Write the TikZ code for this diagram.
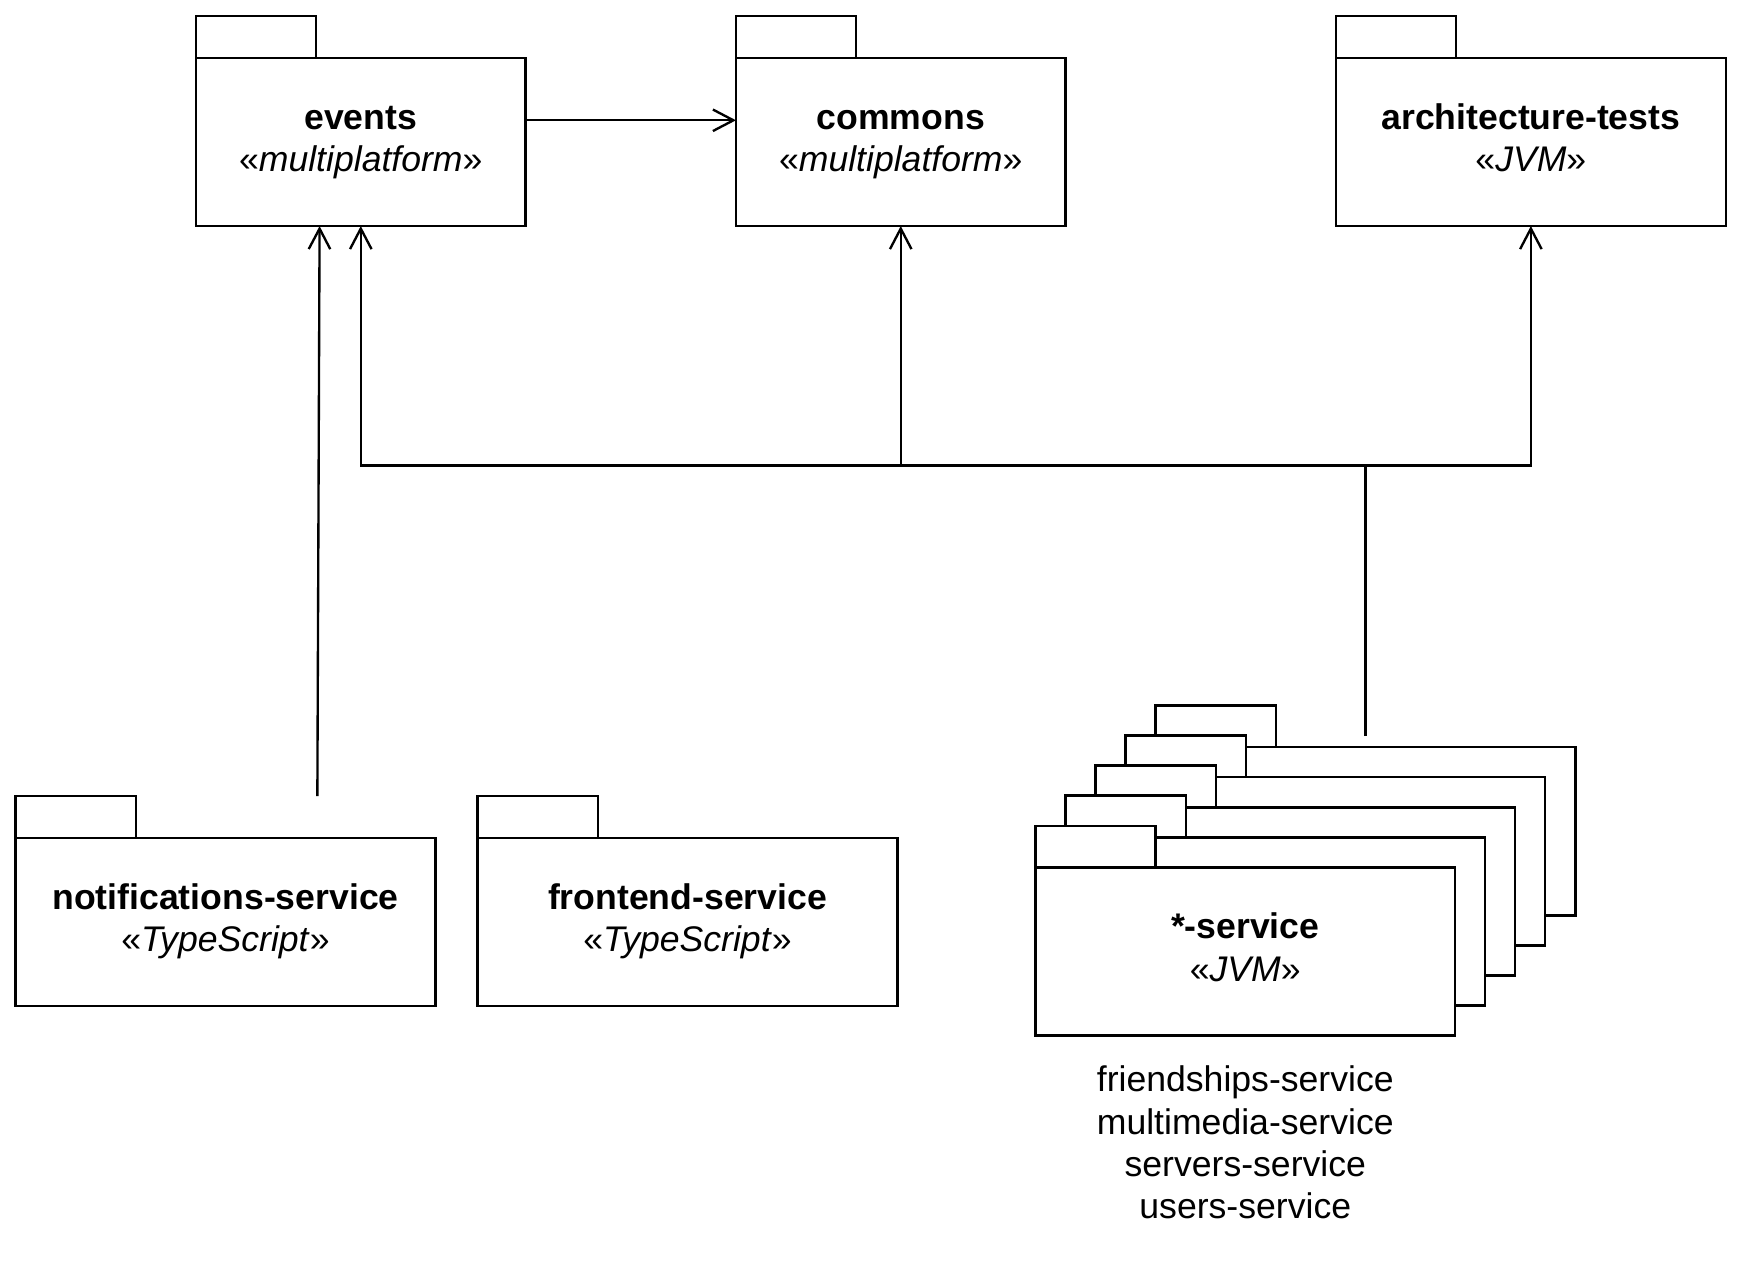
\documentclass[tikz,border=0pt]{standalone}
\usepackage{fontspec}
\setmainfont{Liberation Sans}
\usetikzlibrary{arrows.meta, positioning, calc, backgrounds}
\tikzstyle{dep}=[-{Straight Barb[length=10.5pt,width=11pt]}, line width=1.2pt]
\tikzset{
    pkg/.style={draw, fill=white, line width=1.2pt, outer sep=0pt,
        minimum width=5.92cm, minimum height=3.02cm, align=center},
    wide pkg/.style={pkg, minimum width=7.54cm},
    tabbox/.style={draw, fill=white, line width=1.2pt, outer sep=0pt, inner sep=0pt,
        anchor=south west, minimum width=2.16cm, minimum height=0.75cm}
}
\newcommand{\pkglabel}[2]{\textbf{#1}\strut\\«\textit{#2}»\strut}

\begin{document}
\begin{tikzpicture}[x=0.02cm, y=-0.02cm, font=\fontsize{18.2}{21.6}\selectfont]
  \useasboundingbox (0,0) rectangle (1568,1134);

  % top row
  \node [pkg] (events) at (324,127.5) {\pkglabel{events}{multiplatform}};
  \node [pkg, right=3.78cm of events] (commons) {\pkglabel{commons}{multiplatform}};
  \node [pkg, right=4.86cm of commons, minimum width=7cm] (arch) {\pkglabel{architecture-tests}{JVM}};

  % bottom row
  \node [wide pkg] (notif) at (202.5,828) {\pkglabel{notifications-service}{TypeScript}};
  \node [wide pkg, right=0.76cm of notif] (frontend) {\pkglabel{frontend-service}{TypeScript}};
  \node [wide pkg, right=2.48cm of frontend, yshift=-0.53cm] (svc) {\pkglabel{*-service}{JVM}};

  \foreach \n in {events, commons, arch, notif, frontend, svc}
    \node [tabbox] (\n-tab) at (\n.north west) {};

  %%%%%%%% copies behind *-service %%%%%%%%
  \begin{scope}[on background layer]
    \foreach \k in {4,3,2,1} {
      \node [wide pkg, xshift=\k*0.54cm, yshift=\k*0.54cm] (svc-\k) at (svc) {};
      \node [tabbox] at (svc-\k.north west) {};
    }
  \end{scope}

  \node [below=0.54cm of svc, inner sep=0pt, align=center] (svc-list)
    {friendships-service\\multimedia-service\\servers-service\\users-service};

  %%%%%%%% dependencies %%%%%%%%
  \path (events.north east) ++(0,56) coordinate (ev-out);
  \draw [dep] (ev-out) -- (ev-out -| commons.west);

  \coordinate (notif-out) at (285,715);
  \draw [dep] (notif-out) -- (287,0 |- events.south);

  \path (svc-4.north) ++(0,-10) coordinate (svc-out);
  \coordinate (bus) at (0,418);
  \draw [line width=1.2pt] (svc-out) -- (svc-out |- bus);
  \draw [dep] (svc-out |- bus) -| (events.south);
  \draw [dep] (svc-out |- bus) -| (arch.south);
  \draw [dep] (commons.south |- bus) -- (commons.south);
\end{tikzpicture}
\end{document}
